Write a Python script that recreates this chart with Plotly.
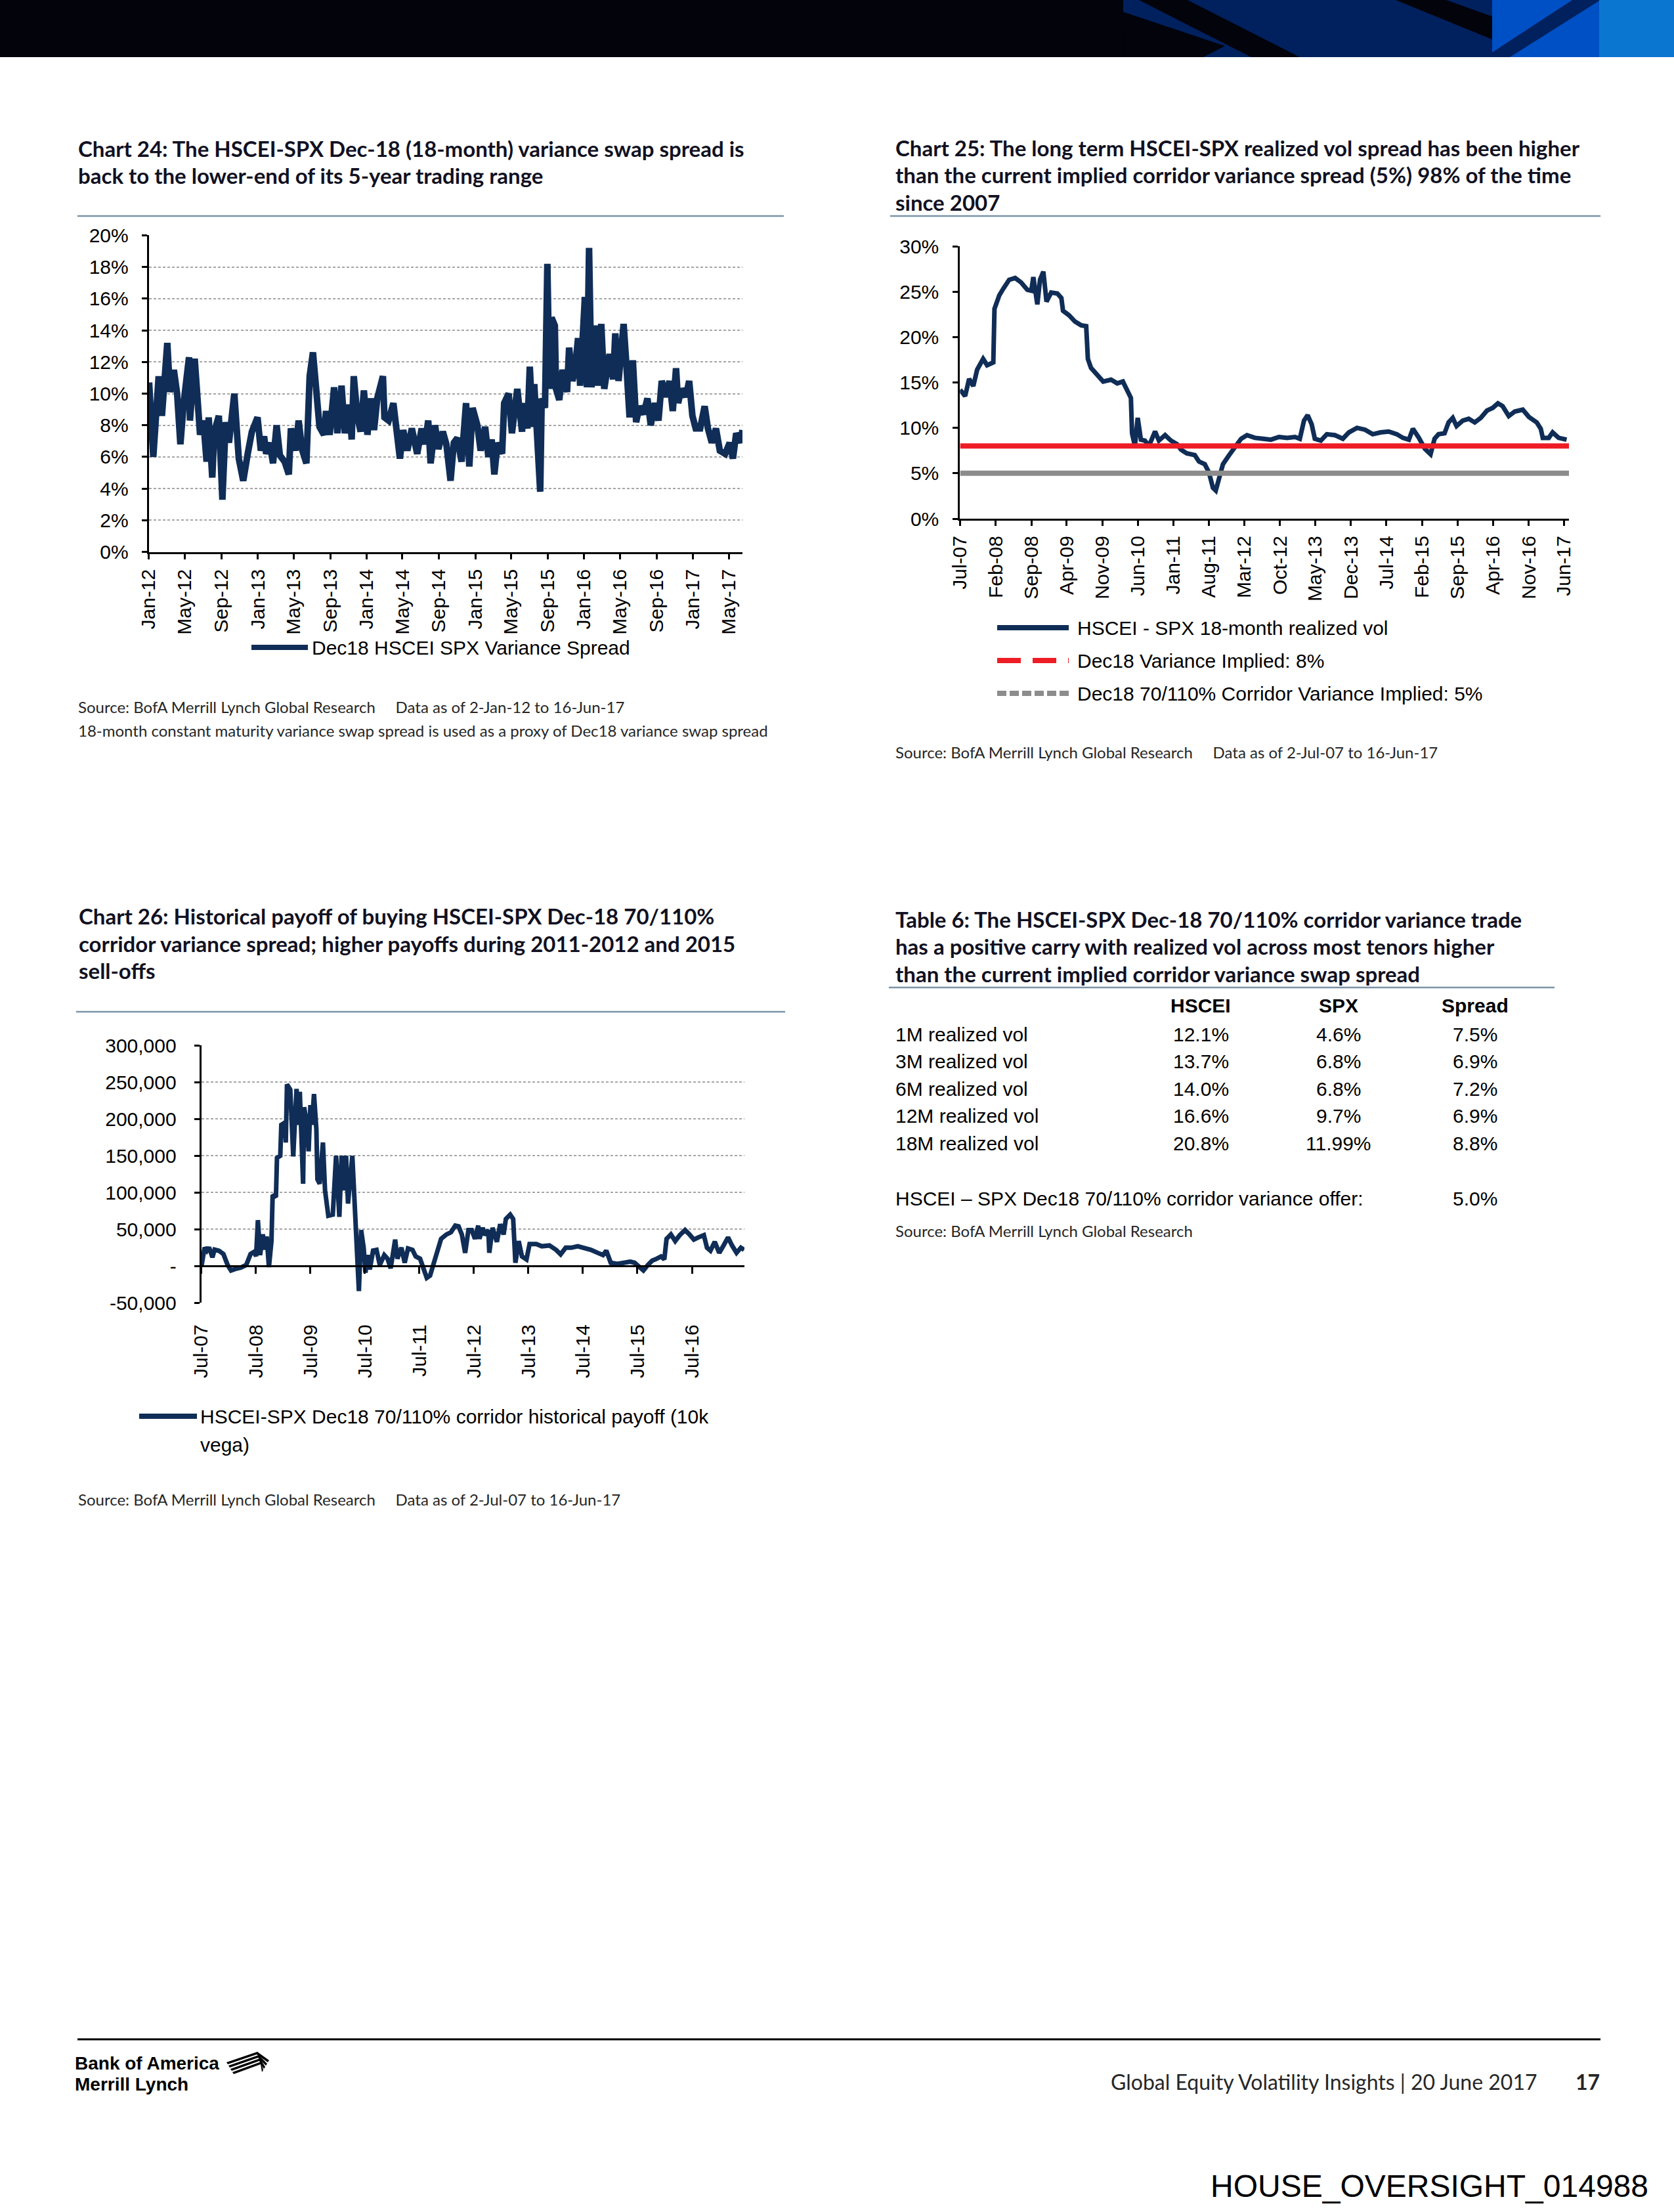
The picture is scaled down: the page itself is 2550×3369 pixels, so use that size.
import pandas as pd
import plotly.graph_objects as go

# ============================ DATA ============================
# Chart 24: Dec18 HSCEI SPX variance spread (%)
c24_dates = [
    "2012-01-02", "2012-01-16", "2012-02-03", "2012-02-14", "2012-03-03", "2012-03-12", "2012-03-25", "2012-04-05",
    "2012-04-16", "2012-04-27", "2012-05-15", "2012-05-18", "2012-06-03", "2012-06-14", "2012-06-21", "2012-07-02",
    "2012-07-13", "2012-07-20", "2012-08-01", "2012-08-08", "2012-08-23", "2012-09-04", "2012-09-15", "2012-09-26",
    "2012-10-14", "2012-10-29", "2012-11-13", "2012-11-28", "2012-12-12", "2012-12-31",
    "2013-01-11", "2013-01-22", "2013-01-29", "2013-02-10", "2013-02-21", "2013-03-05", "2013-03-16", "2013-04-01",
    "2013-04-15", "2013-04-22", "2013-05-07", "2013-05-18", "2013-05-29", "2013-06-13", "2013-06-24", "2013-07-05",
    "2013-07-19", "2013-07-27", "2013-08-11", "2013-08-18", "2013-08-30", "2013-09-14", "2013-09-25", "2013-10-09",
    "2013-10-20", "2013-11-05", "2013-11-12", "2013-11-19", "2013-12-01", "2013-12-12", "2013-12-23",
    "2014-01-04", "2014-01-15", "2014-01-26", "2014-02-06", "2014-02-25", "2014-03-02", "2014-03-16", "2014-04-01",
    "2014-04-12", "2014-04-23", "2014-05-04", "2014-05-18", "2014-06-02", "2014-06-20", "2014-07-05", "2014-07-16",
    "2014-07-27", "2014-08-04", "2014-08-19", "2014-08-30", "2014-09-14", "2014-09-26", "2014-10-10", "2014-10-21",
    "2014-11-02", "2014-11-16", "2014-12-01", "2014-12-12", "2014-12-23",
    "2015-01-08", "2015-01-19", "2015-02-03", "2015-02-14", "2015-02-25", "2015-03-06", "2015-03-17", "2015-04-01",
    "2015-04-08", "2015-04-23", "2015-05-04", "2015-05-22", "2015-06-07", "2015-06-14", "2015-06-25", "2015-07-03",
    "2015-07-13", "2015-07-18", "2015-07-28", "2015-08-07", "2015-08-12", "2015-08-23", "2015-08-31", "2015-09-07",
    "2015-09-14", "2015-09-25", "2015-09-29", "2015-10-10", "2015-10-21", "2015-11-05", "2015-11-12", "2015-11-23",
    "2015-12-01", "2015-12-12", "2015-12-19",
    "2016-01-04", "2016-01-11", "2016-01-18", "2016-01-26", "2016-02-03", "2016-02-10", "2016-02-17", "2016-02-28",
    "2016-03-09", "2016-03-27", "2016-04-08", "2016-04-15", "2016-04-26", "2016-05-13", "2016-05-22", "2016-06-02",
    "2016-06-13", "2016-06-24", "2016-07-05", "2016-07-19", "2016-08-01", "2016-08-12", "2016-08-26", "2016-09-07",
    "2016-09-18", "2016-10-03", "2016-10-14", "2016-10-25", "2016-11-05", "2016-11-12", "2016-11-23", "2016-12-08",
    "2016-12-19", "2016-12-30",
    "2017-01-10", "2017-01-25", "2017-02-09", "2017-02-20", "2017-03-05", "2017-03-19", "2017-04-01", "2017-04-19",
    "2017-05-04", "2017-05-15", "2017-05-26", "2017-06-09", "2017-06-16",
]
c24_spread = [
    10.7, 6.0, 11.1, 8.6, 13.2, 10.1, 11.5, 10.0,
    6.8, 9.4, 12.3, 8.3, 12.2, 8.7, 7.4, 8.3,
    5.7, 8.5, 4.7, 7.6, 8.6, 3.3, 8.2, 6.9,
    10.0, 5.9, 4.5, 6.2, 7.6, 8.5,
    6.4, 7.3, 6.2, 6.9, 5.6, 8.0, 6.1, 5.7,
    4.9, 7.8, 6.4, 8.3, 6.5, 5.6, 11.1, 12.6,
    9.3, 7.9, 7.4, 8.9, 7.4, 10.4, 7.5, 10.5,
    7.5, 9.3, 7.1, 11.1, 8.6, 7.6, 10.2,
    7.4, 9.7, 7.7, 9.7, 11.1, 8.5, 8.3, 9.4,
    7.5, 5.9, 7.7, 6.4, 7.8, 6.2, 7.8, 6.8,
    8.3, 5.6, 8.0, 6.5, 7.6, 6.8, 4.5, 6.9,
    7.2, 5.7, 9.4, 5.4, 9.1,
    8.0, 6.4, 7.9, 6.0, 7.1, 4.9, 6.9, 6.2,
    9.4, 10.0, 7.5, 10.3, 7.6, 9.4, 7.8, 11.7,
    7.9, 10.6, 7.8, 3.8, 9.7, 9.1, 18.2, 10.3,
    14.8, 14.3, 10.3, 9.6, 11.5, 10.1, 12.9, 10.8,
    11.4, 13.5, 10.5,
    16.1, 10.4, 19.2, 10.4, 13.6, 14.3, 10.5, 14.4,
    10.3, 12.5, 10.9, 13.8, 10.8, 14.4, 11.9, 8.5,
    12.1, 8.2, 9.2, 8.7, 9.7, 8.0, 9.4, 8.3,
    10.8, 9.8, 10.8, 8.9, 11.6, 9.4, 10.3, 9.8,
    10.8, 8.6,
    7.8, 7.8, 9.2, 7.8, 6.9, 7.8, 6.4, 6.2,
    6.9, 5.9, 7.5, 6.9, 7.7,
]
c24_xtick_labels = ["Jan-12", "May-12", "Sep-12", "Jan-13", "May-13", "Sep-13", "Jan-14", "May-14", "Sep-14",
                    "Jan-15", "May-15", "Sep-15", "Jan-16", "May-16", "Sep-16", "Jan-17", "May-17"]
c24_yticks = [0, 2, 4, 6, 8, 10, 12, 14, 16, 18, 20]

# Chart 25: HSCEI - SPX 18-month realized vol (%)
c25_dates = [
    "2007-07-02", "2007-08-01", "2007-08-25", "2007-09-19", "2007-10-12", "2007-11-17", "2007-12-11", "2008-01-17",
    "2008-01-24", "2008-02-22", "2008-03-16", "2008-04-21", "2008-05-27", "2008-07-02", "2008-08-08", "2008-09-01",
    "2008-09-13", "2008-10-07", "2008-10-23", "2008-11-12", "2008-12-01", "2008-12-29", "2009-02-04", "2009-02-28",
    "2009-03-10", "2009-04-15", "2009-05-21", "2009-06-26", "2009-07-27", "2009-08-06", "2009-08-25", "2009-10-01",
    "2009-11-06", "2009-12-23", "2010-01-29", "2010-03-04", "2010-03-28", "2010-04-21", "2010-04-28", "2010-05-15",
    "2010-06-01", "2010-06-20", "2010-07-14", "2010-08-07", "2010-09-13", "2010-10-06", "2010-11-12", "2010-12-17",
    "2011-01-23", "2011-02-16", "2011-03-22", "2011-05-09", "2011-06-03", "2011-07-08", "2011-08-02", "2011-08-26",
    "2011-09-12", "2011-10-01", "2011-10-25", "2011-12-01", "2012-01-06", "2012-02-11", "2012-03-17", "2012-05-04",
    "2012-06-21", "2012-08-08", "2012-09-25", "2012-11-13", "2012-12-30", "2013-01-28", "2013-02-22", "2013-03-16",
    "2013-04-09", "2013-04-28", "2013-06-03", "2013-07-09", "2013-08-26", "2013-10-13", "2013-11-18", "2014-01-06",
    "2014-02-23", "2014-04-10", "2014-05-28", "2014-07-15", "2014-09-02", "2014-10-08", "2014-11-13", "2014-12-07",
    "2015-01-12", "2015-02-17", "2015-03-23", "2015-04-16", "2015-05-10", "2015-06-15", "2015-07-09", "2015-08-03",
    "2015-08-26", "2015-10-02", "2015-11-07", "2015-12-13", "2016-01-18", "2016-02-24", "2016-03-30", "2016-04-30",
    "2016-05-28", "2016-07-04", "2016-08-09", "2016-09-26", "2016-11-02", "2016-12-19", "2017-01-12", "2017-01-24",
    "2017-03-01", "2017-03-24", "2017-04-29", "2017-06-16",
]
c25_realized = [
    14.2, 13.5, 15.4, 14.6, 16.4, 17.6, 16.9, 17.2,
    23.1, 24.6, 25.3, 26.3, 26.5, 26.0, 25.2, 25.1,
    26.6, 23.6, 26.3, 27.2, 23.9, 24.9, 24.8, 24.3,
    22.9, 22.4, 21.7, 21.3, 21.2, 17.6, 16.6, 15.8,
    15.1, 15.3, 14.9, 15.1, 14.2, 13.3, 9.4, 8.0,
    11.1, 8.7, 8.6, 8.0, 9.6, 8.6, 9.2, 8.6,
    8.2, 7.6, 7.2, 7.0, 6.3, 6.0, 5.1, 3.4,
    3.1, 4.3, 6.0, 7.0, 8.0, 8.8, 9.2, 8.9,
    8.8, 8.7, 9.0, 8.9, 9.0, 8.8, 10.8, 11.4,
    10.4, 8.8, 8.6, 9.3, 9.2, 8.8, 9.5, 10.0,
    9.8, 9.3, 9.5, 9.6, 9.3, 8.9, 8.7, 9.9,
    8.9, 7.7, 7.1, 8.8, 9.3, 9.4, 10.6, 11.1,
    10.2, 10.8, 11.0, 10.6, 11.1, 11.9, 12.2, 12.7,
    12.4, 11.3, 11.8, 12.0, 11.2, 10.6, 9.9, 8.9,
    8.9, 9.5, 8.9, 8.7,
]
c25_level_dates = ["2007-07-02", "2017-06-30"]
c25_variance_implied = [8, 8]
c25_corridor_implied = [5, 5]
c25_xtick_labels = ["Jul-07", "Feb-08", "Sep-08", "Apr-09", "Nov-09", "Jun-10", "Jan-11", "Aug-11", "Mar-12",
                    "Oct-12", "May-13", "Dec-13", "Jul-14", "Feb-15", "Sep-15", "Apr-16", "Nov-16", "Jun-17"]
c25_yticks = [0, 5, 10, 15, 20, 25, 30]

# Chart 26: historical payoff (10k vega)
c26_dates = [
    "2007-07-02", "2007-07-23", "2007-08-07", "2007-08-22", "2007-09-13", "2007-09-28", "2007-10-27", "2007-11-26",
    "2007-12-24", "2008-01-16", "2008-02-14", "2008-03-21", "2008-04-27", "2008-05-26", "2008-06-18", "2008-07-02",
    "2008-07-14", "2008-07-29", "2008-08-16", "2008-08-31", "2008-09-11", "2008-09-26", "2008-10-13", "2008-10-21",
    "2008-11-12", "2008-11-19", "2008-12-11", "2008-12-18", "2009-01-10", "2009-01-17", "2009-01-25", "2009-02-16",
    "2009-03-08", "2009-03-30", "2009-04-14", "2009-04-21", "2009-05-13", "2009-05-20", "2009-06-04", "2009-06-19",
    "2009-07-01", "2009-07-11", "2009-07-25", "2009-08-10", "2009-08-17", "2009-09-01", "2009-09-23", "2009-10-07",
    "2009-10-29", "2009-11-28", "2009-12-20", "2010-01-11", "2010-01-26", "2010-02-10", "2010-02-25", "2010-03-10",
    "2010-04-08", "2010-04-23", "2010-05-07", "2010-05-22", "2010-06-06", "2010-06-23", "2010-07-05", "2010-07-19",
    "2010-08-03", "2010-08-25", "2010-09-17", "2010-10-09", "2010-11-08", "2010-11-30", "2010-12-21", "2011-01-20",
    "2011-02-04", "2011-03-03", "2011-03-25", "2011-04-16", "2011-05-16", "2011-06-07", "2011-07-06", "2011-07-28",
    "2011-08-20", "2011-09-11", "2011-10-03", "2011-11-02", "2011-11-24", "2011-12-30", "2012-01-29", "2012-02-27",
    "2012-03-20", "2012-04-11", "2012-05-03", "2012-05-25", "2012-06-16", "2012-07-08", "2012-07-30", "2012-08-07",
    "2012-08-29", "2012-09-13", "2012-10-05", "2012-10-12", "2012-11-03", "2012-12-02", "2012-12-24", "2013-01-16",
    "2013-01-31", "2013-03-01", "2013-03-21", "2013-04-05", "2013-04-27", "2013-05-19", "2013-06-18", "2013-07-09",
    "2013-08-23", "2013-09-29", "2013-11-19", "2014-01-03", "2014-02-02", "2014-03-08", "2014-04-14", "2014-05-28",
    "2014-07-11", "2014-08-24", "2014-10-08", "2014-11-13", "2014-12-05", "2015-01-04", "2015-02-17", "2015-04-01",
    "2015-05-15", "2015-06-13", "2015-07-12", "2015-08-11", "2015-09-10", "2015-10-09", "2015-11-08", "2015-12-07",
    "2015-12-29", "2016-01-13", "2016-02-11", "2016-03-11", "2016-04-10", "2016-05-16", "2016-06-15", "2016-07-14",
    "2016-08-13", "2016-09-19", "2016-10-10", "2016-11-02", "2016-12-01", "2016-12-31", "2017-01-29", "2017-02-28",
    "2017-03-27", "2017-04-26", "2017-05-25", "2017-06-16",
]
c26_payoff = [
    0, 25300, 20800, 25300, 11900, 22300, 20800, 16400,
    1500, -6000, -3900, -2100, 1500, 16400, 19300, 13400,
    62500, 14900, 43200, 22300, 40200, -1500, 34200, 96700,
    93800, 147000, 150000, 192000, 195000, 168000, 247000, 240000,
    149000, 241000, 192000, 237000, 112000, 216000, 198000, 156000,
    219000, 192000, 234000, 186000, 118000, 112000, 168000, 103000,
    68500, 70000, 150000, 67000, 150000, 103000, 150000, 85000,
    150000, 79000, 1500, -34000, 49000, 25000, -9000, 15000,
    -4500, 21000, 22000, 1500, 15000, 10000, -3000, 36000,
    10000, 25000, 4500, 24000, 22000, 13000, 10000, -4500,
    -16000, -13000, 1500, 25000, 37000, 43000, 46000, 55000,
    54000, 43000, 18000, 49000, 49000, 37000, 55000, 37000,
    52000, 42000, 49000, 18000, 52000, 33000, 57000, 43000,
    64000, 70000, 64000, 4500, 34000, 13000, 9000, 30000,
    30000, 27000, 28000, 22000, 16000, 25000, 25000, 27000,
    25000, 22000, 18000, 15000, 21000, 4500, 3000, 4500,
    6000, 4500, -1500, -6000, 1500, 7400, 10000, 13000,
    9000, 37000, 43000, 34000, 42000, 49000, 43000, 36000,
    39000, 42000, 25000, 21000, 33000, 18000, 28000, 39000,
    28000, 18000, 25000, 22000,
]
c26_xtick_labels = ["Jul-07", "Jul-08", "Jul-09", "Jul-10", "Jul-11", "Jul-12", "Jul-13", "Jul-14", "Jul-15", "Jul-16"]
c26_yticks = [-50000, 0, 50000, 100000, 150000, 200000, 250000, 300000]

# Table 6
t6_columns = ["HSCEI", "SPX", "Spread"]
t6_rows = ["1M realized vol", "3M realized vol", "6M realized vol", "12M realized vol", "18M realized vol"]
t6_hscei = ["12.1%", "13.7%", "14.0%", "16.6%", "20.8%"]
t6_spx = ["4.6%", "6.8%", "6.8%", "9.7%", "11.99%"]
t6_spread = ["7.5%", "6.9%", "7.2%", "6.9%", "8.8%"]
t6_offer_label = "HSCEI \u2013 SPX Dec18 70/110% corridor variance offer:"
t6_offer_value = "5.0%"

# ============================ STYLE / LAYOUT ============================
W, H = 2550, 3369
NAVY = "#0f2d56"
RED = "#ee1c25"
GREY = "#8c8c8c"
RULE = "#7a93a8"
TXT = "#111122"
ARIAL = "Liberation Sans, Arial, sans-serif"
TITLE = "Lato, Liberation Sans, sans-serif"
LIGHT = "Lato, Liberation Sans, sans-serif"
NBSP = "\u00a0"


def X(px):
    return px / W


def Y(py):
    return 1 - py / H


def lbl_dates(labels):
    return [pd.to_datetime(s, format="%b-%y").strftime("%Y-%m-%d") for s in labels]


fig = go.Figure()

# ---- Chart 24 ----
fig.add_trace(go.Scatter(x=c24_dates, y=c24_spread, mode="lines", xaxis="x", yaxis="y",
                         line=dict(color=NAVY, width=10), showlegend=False,
                         name="Dec18 HSCEI SPX Variance Spread"))
# ---- Chart 25 ----
fig.add_trace(go.Scatter(x=c25_dates, y=c25_realized, mode="lines", xaxis="x2", yaxis="y2",
                         line=dict(color=NAVY, width=7), showlegend=False,
                         name="HSCEI - SPX 18-month realized vol"))
fig.add_trace(go.Scatter(x=c25_level_dates, y=c25_variance_implied, mode="lines", xaxis="x2", yaxis="y2",
                         line=dict(color=RED, width=8), showlegend=False,
                         name="Dec18 Variance Implied: 8%"))
fig.add_trace(go.Scatter(x=c25_level_dates, y=c25_corridor_implied, mode="lines", xaxis="x2", yaxis="y2",
                         line=dict(color=GREY, width=8), showlegend=False,
                         name="Dec18 70/110% Corridor Variance Implied: 5%"))
# ---- Chart 26 ----
fig.add_trace(go.Scatter(x=c26_dates, y=c26_payoff, mode="lines", xaxis="x3", yaxis="y3",
                         line=dict(color=NAVY, width=7), showlegend=False,
                         name="HSCEI-SPX Dec18 70/110% corridor historical payoff (10k vega)"))
fig.add_trace(go.Scatter(x=[c26_dates[0]], y=[None], mode="lines", xaxis="x4", yaxis="y3",
                         showlegend=False, hoverinfo="skip"))

axis_common = dict(showline=True, linecolor="black", linewidth=3, ticks="outside", ticklen=8,
                   tickwidth=3, tickcolor="black", zeroline=False, automargin=False,
                   tickfont=dict(family=ARIAL, size=30, color="black"))
grid_style = dict(showgrid=True, gridcolor="#a6a6a6", gridwidth=1.5, griddash="4px,3px")

c26_range = [-50000, 300000]
c26_dom = [Y(1984.3), Y(1592.3)]
zero_pos = c26_dom[0] + (0 - c26_range[0]) / (c26_range[1] - c26_range[0]) * (c26_dom[1] - c26_dom[0])

# width/height come from the plot div (pinned to the page origin, see write_html below)
fig.update_layout(
    template="none", autosize=True,
    margin=dict(l=0, r=0, t=0, b=0, pad=0, autoexpand=False),
    paper_bgcolor="white", plot_bgcolor="rgba(0,0,0,0)", showlegend=False,
    xaxis=dict(domain=[X(226.7), X(1131)], anchor="y", type="date",
               range=["2012-01-01", "2017-06-16"],
               tickvals=lbl_dates(c24_xtick_labels), ticktext=c24_xtick_labels,
               tickangle=-90, showgrid=False, ticklabelstandoff=3, **axis_common),
    yaxis=dict(domain=[Y(840.7), Y(358.3)], anchor="x", range=[0, 20],
               tickvals=c24_yticks, ticktext=[f"{v}%" for v in c24_yticks],
               ticklabelstandoff=14, **grid_style, **axis_common),
    xaxis2=dict(domain=[X(1462.3), X(2390)], anchor="y2", type="date",
                range=["2007-07-01", "2017-06-30"],
                tickvals=lbl_dates(c25_xtick_labels), ticktext=c25_xtick_labels,
                tickangle=-90, showgrid=False, ticklabelstandoff=3, **axis_common),
    yaxis2=dict(domain=[Y(790), Y(375)], anchor="x2", range=[0, 30],
                tickvals=c25_yticks, ticktext=[f"{v}%" for v in c25_yticks],
                showgrid=False, ticklabelstandoff=15, **axis_common),
    xaxis3=dict(domain=[X(306.7), X(1134)], anchor="y3", type="date",
                range=["2007-07-01", "2017-06-18"],
                tickvals=lbl_dates(c26_xtick_labels), ticktext=c26_xtick_labels,
                tickangle=-90, showgrid=False, showline=False, ticks="", zeroline=False, automargin=False,
                ticklabelstandoff=26, tickfont=dict(family=ARIAL, size=30, color="black")),
    xaxis4=dict(overlaying="x3", anchor="free", position=zero_pos, type="date",
                range=["2007-07-01", "2017-06-18"], automargin=False,
                tickvals=lbl_dates(c26_xtick_labels), showticklabels=False, showgrid=False,
                showline=True, linecolor="black", linewidth=3, ticks="outside", ticklen=10,
                tickwidth=3, tickcolor="black", zeroline=False),
    yaxis3=dict(domain=c26_dom, anchor="x3", range=c26_range,
                tickvals=c26_yticks, ticktext=["-" if v == 0 else f"{v:,}" for v in c26_yticks],
                ticklabelstandoff=21, **grid_style, **axis_common),
)

shapes = []
ann = []


def text(x, y, s, size=30, family=ARIAL, color="black", xanchor="left"):
    ann.append(dict(x=X(x), y=Y(y), xref="paper", yref="paper", text=s, showarrow=False,
                    xanchor=xanchor, yanchor="middle", align=xanchor if xanchor != "center" else "center",
                    borderpad=0, font=dict(family=family, size=size, color=color)))


def hline(x0, x1, y, color, width, dash=None):
    ln = dict(color=color, width=width)
    if dash:
        ln["dash"] = dash
    shapes.append(dict(type="line", xref="paper", yref="paper", x0=X(x0), x1=X(x1), y0=Y(y), y1=Y(y), line=ln))


def poly(pts, color):
    path = "M " + " L ".join(f"{X(px):.5f},{Y(py):.5f}" for px, py in pts) + " Z"
    shapes.append(dict(type="path", xref="paper", yref="paper", path=path,
                       fillcolor=color, line=dict(width=0), layer="above"))


# ---- header bar ----
poly([(0, 0), (2550, 0), (2550, 87), (0, 87)], "#03030c")
poly([(1711, 0), (2273, 0), (2273, 87), (1711, 87)], "#00215e")
poly([(1711, 18), (1866, 70), (1833, 87), (1711, 87)], "#03030c")
poly([(1735, 0), (1809, 0), (1980, 87), (1906, 87)], "#03030c")
poly([(2126, 0), (2203, 0), (2273, 25), (2273, 60)], "#03030c")
poly([(2273, 0), (2436, 0), (2436, 87), (2273, 87)], "#0050c5")
poly([(2395, 0), (2438, 0), (2300, 87), (2262, 87)], "#00215e")
poly([(2436, 0), (2550, 0), (2550, 87), (2436, 87)], "#0a76d0")

# ---- titles & rules ----
for i, s in enumerate(["Chart 24: The HSCEI-SPX Dec-18 (18-month) variance swap spread is",
                       "back to the lower-end of its 5-year trading range"]):
    text(118, 226 + 41 * i, f"<b>{s}</b>", size=33, family=TITLE, color=TXT)
hline(118, 1194, 329, RULE, 2.5)

for i, s in enumerate(["Chart 25: The long term HSCEI-SPX realized vol spread has been higher",
                       "than the current implied corridor variance spread (5%) 98% of the time",
                       "since 2007"]):
    text(1363, 225 + 41.5 * i, f"<b>{s}</b>", size=33, family=TITLE, color=TXT)
hline(1356, 2438, 329, RULE, 2.5)

for i, s in enumerate(["Chart 26: Historical payoff of buying HSCEI-SPX Dec-18 70/110%",
                       "corridor variance spread; higher payoffs during 2011-2012 and 2015",
                       "sell-offs"]):
    text(119, 1395 + 41.5 * i, f"<b>{s}</b>", size=33, family=TITLE, color=TXT)
hline(116, 1196, 1541, RULE, 2.5)

for i, s in enumerate(["Table 6: The HSCEI-SPX Dec-18 70/110% corridor variance trade",
                       "has a positive carry with realized vol across most tenors higher",
                       "than the current implied corridor variance swap spread"]):
    text(1363, 1400 + 41.5 * i, f"<b>{s}</b>", size=33, family=TITLE, color=TXT)
hline(1354, 2368, 1504, RULE, 2.5)

# ---- legends ----
hline(383, 469, 986, NAVY, 8)
text(474, 986, "Dec18 HSCEI SPX Variance Spread")

hline(1519, 1628, 956, NAVY, 8)
text(1640, 956, "HSCEI - SPX 18-month realized vol")
hline(1519, 1628, 1006, RED, 8, dash="36px,18px")
text(1640, 1006, "Dec18 Variance Implied: 8%")
hline(1519, 1628, 1056, GREY, 8, dash="14px,5px")
text(1640, 1056, "Dec18 70/110% Corridor Variance Implied: 5%")

hline(212, 300, 2157, NAVY, 8)
text(304, 2157, "HSCEI-SPX Dec18 70/110% corridor historical payoff (10k")
text(304, 2200, "vega)")

# ---- sources ----
SRC = "Source: BofA Merrill Lynch Global Research"
SRC_COL = "#262626"
text(118, 1076, SRC + NBSP * 5 + "Data as of 2-Jan-12 to 16-Jun-17", size=24, family=LIGHT, color=SRC_COL)
text(118, 1112, "18-month constant maturity variance swap spread is used as a proxy of Dec18 variance swap spread",
     size=24, family=LIGHT, color=SRC_COL)
text(1363, 1145, SRC + NBSP * 5 + "Data as of 2-Jul-07 to 16-Jun-17", size=24, family=LIGHT, color=SRC_COL)
text(118, 2283, SRC + NBSP * 5 + "Data as of 2-Jul-07 to 16-Jun-17", size=24, family=LIGHT, color=SRC_COL)
text(1363, 1874, SRC, size=24, family=LIGHT, color=SRC_COL)

# ---- table 6 ----
col_x = [1829, 2039, 2247]
for cx, h in zip(col_x, t6_columns):
    text(cx, 1531, f"<b>{h}</b>", xanchor="center")
for i, (r, a, b, c) in enumerate(zip(t6_rows, t6_hscei, t6_spx, t6_spread)):
    yy = 1575 + 41.5 * i
    text(1363, yy, r)
    for cx, v in zip(col_x, (a, b, c)):
        text(cx, yy, v, xanchor="center")
text(1363, 1825, t6_offer_label)
text(col_x[2], 1825, t6_offer_value, xanchor="center")

# ---- footer ----
hline(118, 2438, 3106, "black", 3)
text(113, 3142, "<b>Bank of America</b>", size=28, family=ARIAL)
text(113, 3174, "<b>Merrill Lynch</b>", size=28, family=ARIAL)
for k in range(4):
    poly([(345 + 3 * k, 3141 + 5 * k), (392 + 2 * k, 3125 + 5 * k), (410 - 3 * k, 3138 + 5 * k),
          (408 - 3 * k, 3141 + 5 * k), (391 + 2 * k, 3129 + 5 * k), (347 + 3 * k, 3144 + 5 * k)], "black")
text(2343, 3170, "Global Equity Volatility Insights | 20 June 2017", size=32, family=LIGHT, color=SRC_COL,
     xanchor="right")
text(2438, 3170, "<b>17</b>", size=32, family=LIGHT, color=SRC_COL, xanchor="right")
text(2512, 3329, "HOUSE_OVERSIGHT_014988", size=48, family=ARIAL, xanchor="right")

fig.update_layout(shapes=shapes, annotations=ann)

# The plot div is 2550x3369 and pinned to the page origin (no body-margin offset).
fig.write_html(
    "out.html",
    config={"displayModeBar": False, "responsive": False},
    default_width=f"{W}px; position:absolute; left:0px; top:0px",
    default_height=f"{H}px",
)
